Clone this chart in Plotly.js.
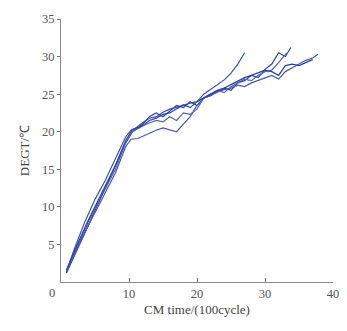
<!DOCTYPE html>
<html><head><meta charset="utf-8">
<script src="https://cdn.plot.ly/plotly-3.0.1.min.js"></script>
<style>html,body{margin:0;padding:0;background:#fff;}</style>
</head><body><div id="chart" style="width:347px;height:331px;"></div>
<script>
const xTitle = "CM time/(100cycle)";
const yTitle = "DEGT/\u2103";
const xTicks = [10, 20, 30, 40];
const yTicks = [5, 10, 15, 20, 25, 30, 35];

const xA = [0.8,2,3.5,5,6.5,8,9.5,10.3,11,12,13,14,15,16,17,18,19,20,21,22,23,24,25,26,27];
const yA = [1.3,4.5,8,11,13.5,16.5,19.3,20.2,20.5,21.2,21.8,22,22.6,23,23.2,23.5,23.8,24,25,25.6,26.2,26.9,27.8,29,30.5];

const xB = [0.8,2,4,6,8,9.5,10.5,12,13,14,15,16,17,18,19,20,21,22,23,24,25,26,27,28,29,30,31,32,33,33.8];
const yB = [1.2,3.5,7.5,11.5,15.5,18.5,20,21,22,22.5,22,22.8,23.5,23.2,24,23.5,24.5,25,25.3,25.8,25.5,26.5,26.8,27.5,27.2,28.3,29,30.5,30,31.2];

const xC = [0.8,2,4,6,8,9.5,10.5,11.5,12.5,14,15,16,17,18,19,20,21,22,23,24,25,26,27,28,29,30,31,32,33.2];
const yC = [1.5,4,8,11.5,15,18.5,20,20.5,21,21.5,21.3,22,21.5,22.5,22.3,23,24.5,24.8,25.5,25.2,26,26.5,27,26.8,27.5,28,28.2,29.2,30.5];

const xD = [0.8,2,4,6,8,9.5,10.3,11.3,12.5,14,15,16,17,18,19,20,21,22,23,24,25,26,27,28,29,30,31,32,33,34,35,36,37,37.8];
const yD = [1.3,3.8,7.5,11,14.5,18,19,19.1,19.6,20.2,20.5,20.2,20,21,22,23.5,24.5,24.8,25.3,25.6,25.8,26.2,26,26.5,26.8,27.2,27.5,27,28,28.5,29,29.5,29.8,30.3];

const xE = [0.8,2,4,6,8,9.5,10.5,12,13,14,15,16,17,18,19,20,21,22,23,24,25,26,27,28,29,30,31,32,33,34,35,36,37];
const yE = [1.6,4.2,8.2,11.8,15.5,18.8,20.3,20.8,21.5,21.8,22.3,22.5,23,23.6,23.2,24,24.5,25,25.5,25.8,26.3,26.8,27.2,27.5,27.8,28.2,28,27.5,28.8,29,28.8,29.2,29.6];

const series = [[xA,yA,'rgb(60,80,175)'],[xB,yB,'rgb(45,65,170)'],[xC,yC,'rgb(85,100,185)'],[xD,yD,'rgb(70,88,178)'],[xE,yE,'rgb(45,65,165)']];
const data = series.map(s => ({x:s[0], y:s[1], type:'scatter', mode:'lines', line:{color:s[2], width:1.2}, hoverinfo:'skip'}));

const tickFont = {family:'"Liberation Serif", "Times New Roman", serif', size:12.5, color:'#555'};
const titleFont = {family:'"Liberation Serif", "Times New Roman", serif', size:13, color:'#444'};
const layout = {
  width:347, height:331,
  margin:{l:61, r:14, t:19, b:49},
  paper_bgcolor:'#fff', plot_bgcolor:'#fff',
  showlegend:false,
  font: tickFont,
  xaxis:{range:[0,40], tickvals:xTicks, ticks:'inside', ticklen:4, tickcolor:'#777',
    showline:true, linecolor:'#888', linewidth:1, showgrid:false, zeroline:false,
    tickfont:tickFont, title:{text:xTitle, font:titleFont, standoff:4}},
  yaxis:{range:[0,35], tickvals:yTicks, ticks:'outside', ticklen:3, tickcolor:'#777',
    showline:true, linecolor:'#888', linewidth:1, showgrid:false, zeroline:false,
    tickfont:tickFont, title:{text:yTitle, font:titleFont, standoff:9}},
  annotations:[{text:'0', xref:'paper', yref:'paper', x:-0.033, y:-0.04, showarrow:false, font:tickFont, xanchor:'center', yanchor:'middle'}]
};
Plotly.newPlot('chart', data, layout, {displayModeBar:false, staticPlot:true});
</script></body></html>
